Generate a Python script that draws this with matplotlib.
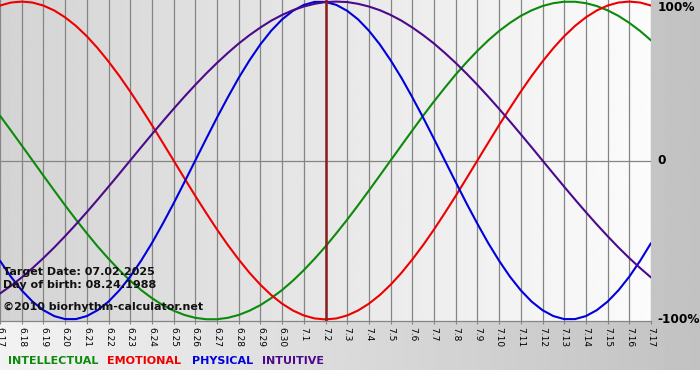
import numpy as np
import matplotlib
matplotlib.use('Agg')
import matplotlib.pyplot as plt

# Day labels on the x axis, 6.17 ... 7.17
days = ['6.17', '6.18', '6.19', '6.20', '6.21', '6.22', '6.23', '6.24', '6.25',
        '6.26', '6.27', '6.28', '6.29', '6.30', '7.1', '7.2', '7.3', '7.4', '7.5',
        '7.6', '7.7', '7.8', '7.9', '7.10', '7.11', '7.12', '7.13', '7.14', '7.15',
        '7.16', '7.17']

# Curve values (fraction of 100%), read every half day from 6.17 to 7.17
intellectual = [0.282, 0.189, 0.095, 0.0, -0.095, -0.189, -0.282, -0.372, -0.458, -0.541,
                -0.618, -0.690, -0.756, -0.815, -0.866, -0.910, -0.945, -0.972, -0.990, -0.999,
                -0.999, -0.990, -0.972, -0.945, -0.910, -0.866, -0.815, -0.756, -0.690, -0.618,
                -0.541, -0.458, -0.372, -0.282, -0.189, -0.095, 0.0, 0.095, 0.189, 0.282,
                0.372, 0.458, 0.541, 0.618, 0.690, 0.756, 0.815, 0.866, 0.910, 0.945,
                0.972, 0.990, 0.999, 0.999, 0.990, 0.972, 0.945, 0.910, 0.866, 0.815, 0.756]
emotional = [0.975, 0.994, 1.0, 0.994, 0.975, 0.944, 0.901, 0.847, 0.782, 0.707,
             0.623, 0.532, 0.434, 0.330, 0.223, 0.112, 0.0, -0.112, -0.223, -0.330,
             -0.434, -0.532, -0.623, -0.707, -0.782, -0.847, -0.901, -0.944, -0.975, -0.994,
             -1.0, -0.994, -0.975, -0.944, -0.901, -0.847, -0.782, -0.707, -0.623, -0.532,
             -0.434, -0.330, -0.223, -0.112, 0.0, 0.112, 0.223, 0.330, 0.434, 0.532,
             0.623, 0.707, 0.782, 0.847, 0.901, 0.944, 0.975, 0.994, 1.0, 0.994, 0.975]
physical = [-0.631, -0.731, -0.817, -0.888, -0.942, -0.979, -0.998, -0.998, -0.979, -0.942,
            -0.888, -0.817, -0.731, -0.631, -0.520, -0.398, -0.270, -0.136, 0.0, 0.136,
            0.270, 0.398, 0.520, 0.631, 0.731, 0.817, 0.888, 0.942, 0.979, 0.998,
            0.998, 0.979, 0.942, 0.888, 0.817, 0.731, 0.631, 0.520, 0.398, 0.270,
            0.136, 0.0, -0.136, -0.270, -0.398, -0.520, -0.631, -0.731, -0.817, -0.888,
            -0.942, -0.979, -0.998, -0.998, -0.979, -0.942, -0.888, -0.817, -0.731, -0.631, -0.520]
intuitive = [-0.837, -0.789, -0.736, -0.677, -0.614, -0.547, -0.476, -0.402, -0.325, -0.246,
             -0.165, -0.083, 0.0, 0.083, 0.165, 0.246, 0.325, 0.402, 0.476, 0.547,
             0.614, 0.677, 0.736, 0.789, 0.837, 0.880, 0.916, 0.946, 0.969, 0.986,
             0.997, 1.0, 0.997, 0.986, 0.969, 0.946, 0.916, 0.880, 0.837, 0.789,
             0.736, 0.677, 0.614, 0.547, 0.476, 0.402, 0.325, 0.246, 0.165, 0.083,
             0.0, -0.083, -0.165, -0.246, -0.325, -0.402, -0.476, -0.547, -0.614, -0.677, -0.736]

target_day = '7.2'
pct_labels = ['100%', '0', '-100%']
pct_values = [0.965, 0.0, -1.0]

series = [
    ('INTELLECTUAL', intellectual, '#0b8a0b'),
    ('EMOTIONAL', emotional, '#ee0000'),
    ('PHYSICAL', physical, '#0000dd'),
    ('INTUITIVE', intuitive, '#4b0a8c'),
]

W, H = 700, 380
fig = plt.figure(figsize=(W / 100, H / 100), dpi=100)

# Page background: horizontal grey gradient, white strip at the very bottom
ax_bg = fig.add_axes([0, 0, 1, 1], zorder=0)
ax_bg.set_xlim(0, W)
ax_bg.set_ylim(H, 0)
grad = np.linspace(0.95, 0.76, 256)[None, :]
ax_bg.imshow(grad, cmap='gray', vmin=0, vmax=1, extent=[0, W, 370, 0], aspect='auto')
ax_bg.axis('off')

# Plot area
plot_w, plot_h = 651, 321
ax = fig.add_axes([0, 1 - plot_h / H, plot_w / W, plot_h / H], zorder=1)
x = np.arange(len(days))
x_half = np.arange(len(intellectual)) / 2.0
ax.set_xlim(0, len(days) - 1)
ax.set_ylim(-1.01, 1.01)
inner = np.linspace(0.83, 0.985, 256)[None, :]
ax.imshow(inner, cmap='gray', vmin=0, vmax=1,
          extent=[0, len(days) - 1, -1.01, 1.01], aspect='auto', zorder=0)

for xi in x:
    ax.axvline(xi, color='#858585', lw=0.9, zorder=1)
ax.axhline(0, color='#858585', lw=0.9, zorder=1)

for name, vals, col in series:
    ax.plot(x_half, vals, color=col, lw=1.5, zorder=3, solid_capstyle='round')

ax.axvline(days.index(target_day), color='#8b1c1c', lw=1.8, zorder=4)

for s in ['top', 'left', 'right']:
    ax.spines[s].set_visible(False)
ax.spines['bottom'].set_color('#858585')
ax.spines['bottom'].set_linewidth(0.9)
ax.set_yticks([])
ax.set_xticks(x)
ax.set_xticklabels(days, rotation=-90, fontsize=6.5, va='top', ha='center')
ax.tick_params(axis='x', length=2.5, width=0.8, color='#858585', pad=1.5)

for lab, v in zip(pct_labels, pct_values):
    ax.annotate(lab, xy=(1, v), xycoords=('axes fraction', 'data'),
                xytext=(4.5, 0), textcoords='offset points',
                ha='left', va='center', fontsize=8.7, fontweight='bold',
                annotation_clip=False)

# Info text over the chart
info = ['Target Date: 07.02.2025', 'Day of birth: 08.24.1988',
        '\u00a92010 biorhythm-calculator.net']
info_y = [272, 285, 307]
for t, py in zip(info, info_y):
    fig.text(3 / W, 1 - py / H, t, fontsize=8, fontweight='bold',
             color='#111111', va='center', ha='left', zorder=5)

# Legend row
legend_x = [8, 107, 192, 262]
for (name, vals, col), px in zip(series, legend_x):
    fig.text(px / W, 1 - 361 / H, name, fontsize=8, fontweight='bold',
             color=col, va='center', ha='left')

fig.savefig('out.png', dpi=100)
